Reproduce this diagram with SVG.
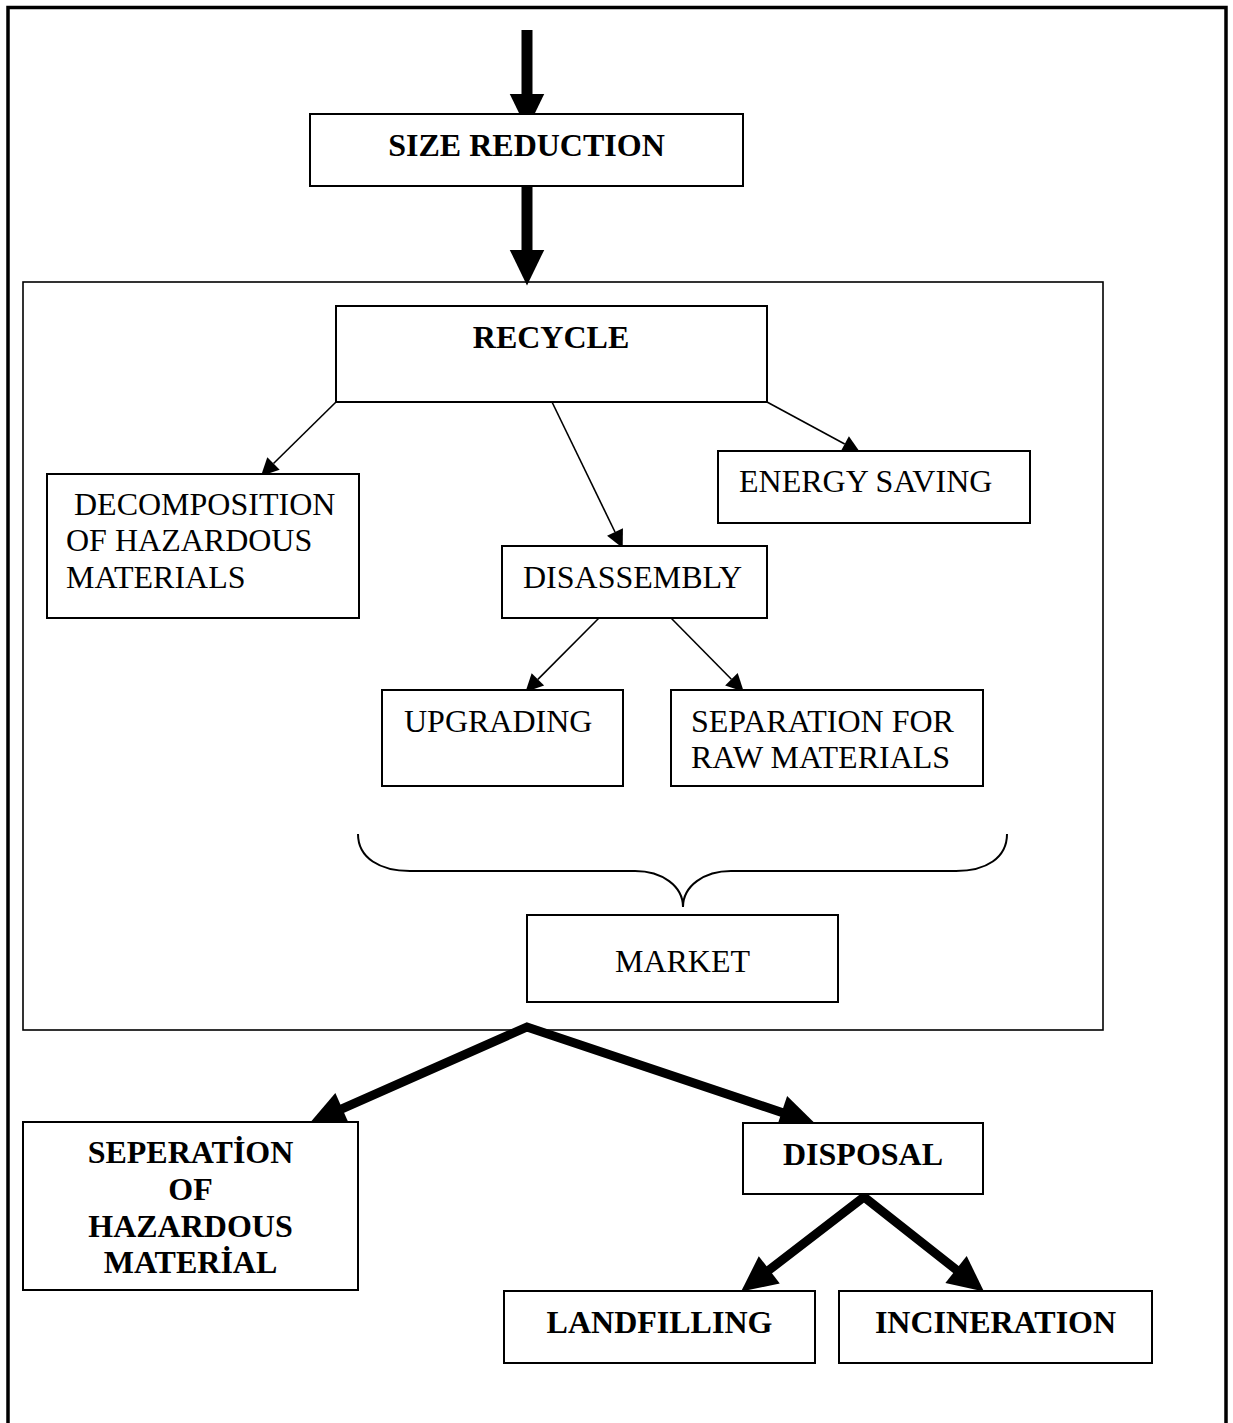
<svg xmlns="http://www.w3.org/2000/svg" width="1233" height="1423" viewBox="0 0 1233 1423">
  <style>
    .box { fill: #fff; stroke: #000; stroke-width: 2; }
    .frame { fill: none; stroke: #000; stroke-width: 3.5; }
    .group { fill: none; stroke: #000; stroke-width: 1.6; }
    .lbl { font-family: "Liberation Serif", "Times New Roman", serif; font-size: 32px; fill: #000; }
    .b { font-weight: bold; }
    .mid { text-anchor: middle; }
    .thin { fill: none; stroke: #000; stroke-width: 1.6; marker-end: url(#headThin); }
    .thick { fill: none; stroke: #000; stroke-width: 11; }
    .heavy { fill: none; stroke: #000; stroke-width: 9; stroke-linejoin: miter; stroke-miterlimit: 10; }
    .brace { fill: none; stroke: #000; stroke-width: 2; }
  </style>
  <defs>
    <marker id="headThin" markerUnits="userSpaceOnUse" markerWidth="20" markerHeight="20" refX="0" refY="0" viewBox="-1 -8 17 16" orient="auto" overflow="visible">
      <path d="M0,-7.5 L15,0 L0,7.5 z" fill="#000"/>
    </marker>
    <marker id="headBig" markerUnits="userSpaceOnUse" markerWidth="40" markerHeight="40" refX="0" refY="0" viewBox="-2 -17 36 34" orient="auto-start-reverse" overflow="visible">
      <path d="M-1,-15.5 L31,0 L-1,15.5 z" fill="#000"/>
    </marker>
  </defs>

  <rect width="1233" height="1423" fill="#fff"/>

  <!-- page frame (open at the bottom edge) -->
  <path class="frame" d="M8,1423 L8,7.5 L1226,7.5 L1226,1423"/>

  <!-- recycle stage enclosure -->
  <rect id="recycle-area" class="group" x="23" y="282" width="1080" height="748"/>

  <g id="connectors">
    <!-- heavy feed arrows -->
    <line class="thick" x1="527" y1="30" x2="527" y2="95" marker-end="url(#headBig)"/>
    <line class="thick" x1="527" y1="186" x2="527" y2="251" marker-end="url(#headBig)"/>

    <!-- recycle branches -->
    <line class="thin" x1="336" y1="402" x2="273.5" y2="463.5"/>
    <line class="thin" x1="552" y1="402" x2="615" y2="532"/>
    <line class="thin" x1="767" y1="402" x2="844.7" y2="444"/>

    <!-- disassembly branches -->
    <line class="thin" x1="599" y1="618" x2="537.9" y2="679.4"/>
    <line class="thin" x1="671" y1="618" x2="731.4" y2="679.3"/>

    <!-- market outlets -->
    <polyline class="heavy" points="341.3,1109.1 527,1027 782.7,1112.8" marker-start="url(#headBig)" marker-end="url(#headBig)"/>

    <!-- disposal routes -->
    <polyline class="heavy" points="768.4,1270.5 864,1197 956.9,1270.2" marker-start="url(#headBig)" marker-end="url(#headBig)"/>

    <!-- grouping brace -->
    <path class="brace" d="M358,834 C358,858 380,871 410,871 L635,871 C662,871 683,886 683,907 C683,886 704,871 731,871 L956,871 C986,871 1007,858 1007,834"/>
  </g>

  <g id="size-reduction">
    <rect class="box" x="310" y="114" width="433" height="72"/>
    <text class="lbl b mid" x="526.5" y="156">SIZE REDUCTION</text>
  </g>

  <g id="recycle">
    <rect class="box" x="336" y="306" width="431" height="96"/>
    <text class="lbl b mid" x="551" y="348">RECYCLE</text>
  </g>

  <g id="decomposition">
    <rect class="box" x="47" y="474" width="312" height="144"/>
    <text class="lbl" x="74" y="515">DECOMPOSITION</text>
    <text class="lbl" x="66" y="551">OF HAZARDOUS</text>
    <text class="lbl" x="66" y="588">MATERIALS</text>
  </g>

  <g id="energy-saving">
    <rect class="box" x="718" y="451" width="312" height="72"/>
    <text class="lbl" x="739" y="492">ENERGY SAVING</text>
  </g>

  <g id="disassembly">
    <rect class="box" x="502" y="546" width="265" height="72"/>
    <text class="lbl" x="523" y="588">DISASSEMBLY</text>
  </g>

  <g id="upgrading">
    <rect class="box" x="382" y="690" width="241" height="96"/>
    <text class="lbl" x="404" y="732">UPGRADING</text>
  </g>

  <g id="separation-raw">
    <rect class="box" x="671" y="690" width="312" height="96"/>
    <text class="lbl" x="691" y="732">SEPARATION FOR</text>
    <text class="lbl" x="691" y="768">RAW MATERIALS</text>
  </g>

  <g id="market">
    <rect class="box" x="527" y="915" width="311" height="87"/>
    <text class="lbl mid" x="682.5" y="972">MARKET</text>
  </g>

  <g id="separation-hazardous">
    <rect class="box" x="23" y="1122" width="335" height="168"/>
    <text class="lbl b mid" x="190.5" y="1163">SEPERATİON</text>
    <text class="lbl b mid" x="190.5" y="1200">OF</text>
    <text class="lbl b mid" x="190.5" y="1237">HAZARDOUS</text>
    <text class="lbl b mid" x="190.5" y="1273">MATERİAL</text>
  </g>

  <g id="disposal">
    <rect class="box" x="743" y="1123" width="240" height="71"/>
    <text class="lbl b mid" x="863" y="1165">DISPOSAL</text>
  </g>

  <g id="landfilling">
    <rect class="box" x="504" y="1291" width="311" height="72"/>
    <text class="lbl b mid" x="659.5" y="1333">LANDFILLING</text>
  </g>

  <g id="incineration">
    <rect class="box" x="839" y="1291" width="313" height="72"/>
    <text class="lbl b mid" x="995.5" y="1333">INCINERATION</text>
  </g>
</svg>
